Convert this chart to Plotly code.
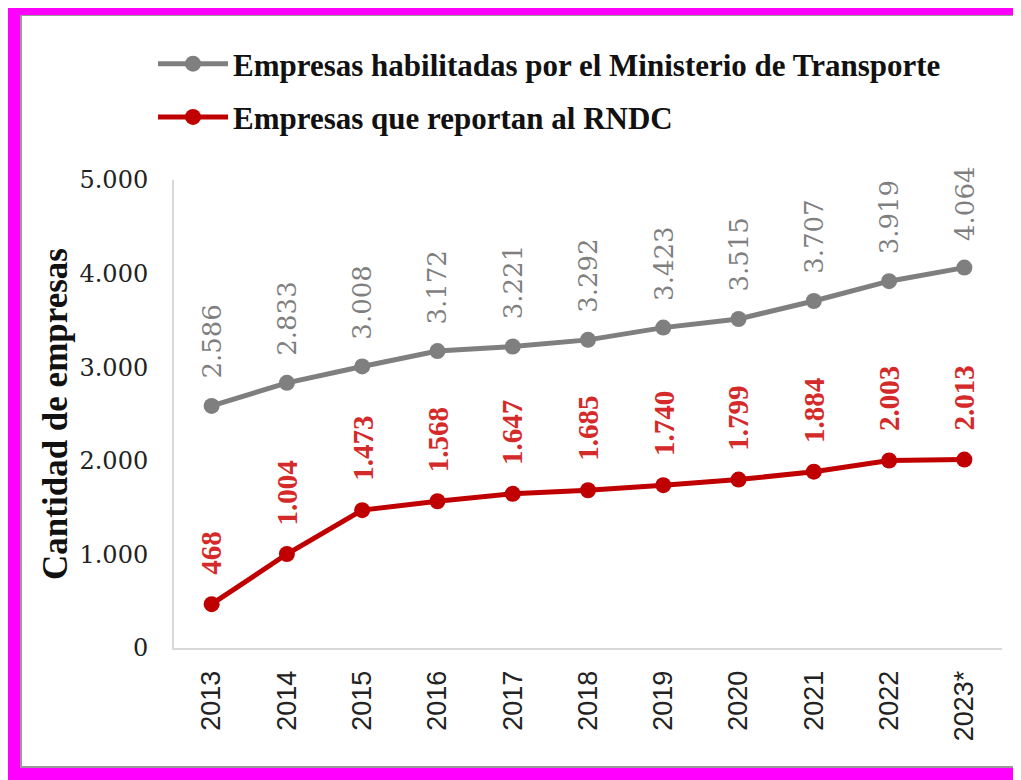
import plotly.graph_objects as go

years = ["2013", "2014", "2015", "2016", "2017", "2018", "2019", "2020", "2021", "2022", "2023*"]
habilitadas = [2586, 2833, 3008, 3172, 3221, 3292, 3423, 3515, 3707, 3919, 4064]
reportan = [468, 1004, 1473, 1568, 1647, 1685, 1740, 1799, 1884, 2003, 2013]
name_hab = "Empresas habilitadas por el Ministerio de Transporte"
name_rep = "Empresas que reportan al RNDC"
y_tick_vals = [0, 1000, 2000, 3000, 4000, 5000]
y_tick_text = ["0", "1.000", "2.000", "3.000", "4.000", "5.000"]
y_title = "Cantidad de empresas"

W, H = 1021, 780
L, R, T, B = 166, 27, 172, 140
PW, PH = W - L - R, H - T - B

def fx(px):
    return (px - L) / PW

def fy(py):
    return (H - B - py) / PH

def fmt(v):
    return f"{v:,}".replace(",", ".")

GRAY = "#7f7f7f"
RED = "#c00000"
SERIF = "Liberation Serif"
SERIF2 = "DejaVu Serif"

fig = go.Figure()
fig.add_trace(go.Scatter(
    x=years, y=habilitadas, name=name_hab, mode="lines+markers",
    line=dict(color=GRAY, width=5), marker=dict(color=GRAY, size=16),
    legendgroup="a", cliponaxis=False,
))
fig.add_trace(go.Scatter(
    x=years, y=reportan, name=name_rep, mode="lines+markers",
    line=dict(color=RED, width=5), marker=dict(color=RED, size=16),
    legendgroup="b", cliponaxis=False,
))

annotations = []
for i, v in enumerate(habilitadas):
    annotations.append(dict(
        x=i, y=v, xref="x", yref="y", text=fmt(v), textangle=-90,
        showarrow=False, yanchor="bottom", xanchor="center", yshift=25,
        font=dict(family=SERIF2, size=26, color=GRAY),
    ))
for i, v in enumerate(reportan):
    annotations.append(dict(
        x=i, y=v, xref="x", yref="y", text="<b>" + fmt(v) + "</b>", textangle=-90,
        showarrow=False, yanchor="bottom", xanchor="center", yshift=27,
        font=dict(family=SERIF, size=29, color="#d42a2a"),
    ))

shapes = [
    # card shadow
    dict(type="rect", xref="paper", yref="paper", x0=fx(12), x1=fx(1030), y0=fy(760), y1=fy(7),
         fillcolor="#9a9a9a", line=dict(width=0), layer="below"),
    # white card
    dict(type="rect", xref="paper", yref="paper", x0=fx(14), x1=fx(1030), y0=fy(758), y1=fy(8),
         fillcolor="white", line=dict(width=0), layer="below"),
    # faint right edge of card
    dict(type="line", xref="paper", yref="paper", x0=fx(1010), x1=fx(1010), y0=fy(758), y1=fy(8),
         line=dict(color="#e6e6e6", width=1), layer="below"),
]

fig.update_layout(
    width=W, height=H,
    margin=dict(l=L, r=R, t=T, b=B, autoexpand=False),
    paper_bgcolor="#ff00ff", plot_bgcolor="rgba(0,0,0,0)",
    separators=",.",
    showlegend=True,
    legend=dict(
        x=fx(145), y=fy(29), xanchor="left", yanchor="top",
        font=dict(family=SERIF, size=31, color="#111111", weight="bold"),
        itemwidth=70, tracegroupgap=10, bgcolor="rgba(0,0,0,0)",
    ),
    xaxis=dict(
        type="category", range=[-0.5, 10.5], showgrid=False,
        showline=True, linecolor="#d9d9d9", linewidth=2, ticks="",
        tickangle=-90, ticklabelstandoff=10,
        tickfont=dict(family="Liberation Sans", size=27, color="#222222"),
        fixedrange=True,
    ),
    yaxis=dict(
        range=[0, 5000], showgrid=False, zeroline=False,
        showline=True, linecolor="#d9d9d9", linewidth=2, ticks="",
        tickvals=y_tick_vals, ticktext=y_tick_text, ticklabelstandoff=19,
        tickfont=dict(family=SERIF2, size=24, color="#222222"),
        title=dict(text="<b>" + y_title + "</b>", standoff=1,
                   font=dict(family=SERIF, size=35, color="#111111")),
        fixedrange=True,
    ),
    shapes=shapes,
    annotations=annotations,
)

fig.write_html("out.html")
